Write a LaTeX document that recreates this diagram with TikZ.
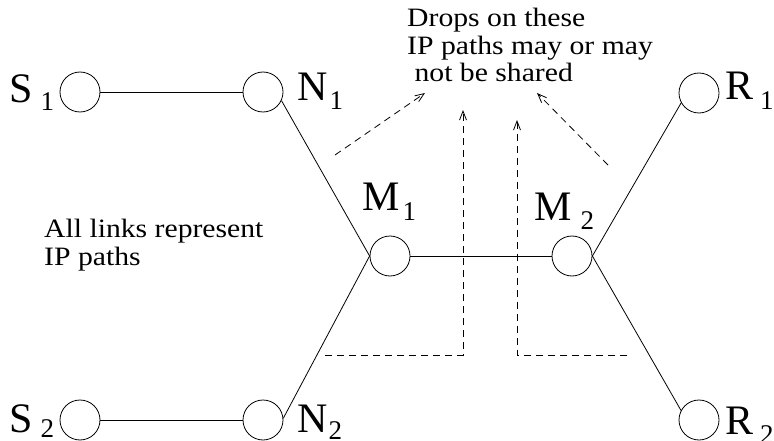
\documentclass[tikz,border=0pt]{standalone}
\usepackage{fontspec}
\setmainfont{Liberation Serif}
\newfontfamily\widefont[FakeStretch=1.12]{Liberation Serif}
\usetikzlibrary{arrows.meta}
\newcommand{\nlab}[4]{#1\hspace{#2}\raisebox{-#4}{\fontsize{27}{27}\selectfont #3}}
\tikzset{
  hostnode/.style={circle, draw, minimum size=40pt, inner sep=0pt, line width=0.8pt},
  link/.style={line width=0.8pt},
  dlink/.style={line width=0.8pt, dash pattern=on 7pt off 5pt},
  darrow/.style={dlink, -{Straight Barb[length=9pt,width=7pt,line width=0.8pt]}},
  lab/.style={anchor=base west, inner sep=0pt, font=\fontsize{42}{42}\selectfont},
  txt/.style={anchor=base west, inner sep=0pt, align=left, font=\widefont\fontsize{26.5}{27.5}\selectfont}
}
\begin{document}
\begin{tikzpicture}[x=1pt,y=-1pt]
\useasboundingbox (0,0) rectangle (774,441);
% hosts
\node[hostnode] (S1) at (80,92) {};
\node[hostnode] (N1) at (263,92) {};
\node[hostnode] (R1) at (699,93) {};
\node[hostnode] (M1) at (390,256) {};
\node[hostnode] (M2) at (572,256) {};
\node[hostnode] (S2) at (80,420) {};
\node[hostnode] (N2) at (263,420) {};
\node[hostnode] (R2) at (699,420) {};
% labels
\node[lab] (lS1) at (9,103) {\nlab{S}{8pt}{1}{8pt}};
\node[lab] (lS2) at (9,432) {\nlab{S}{8pt}{2}{5pt}};
\node[lab] (lN1) at (297,101) {\nlab{N}{2pt}{1}{9pt}};
\node[lab] (lN2) at (297,432) {\nlab{N}{1pt}{2}{7pt}};
\node[lab] (lM1) at (362,210) {\nlab{M}{3pt}{1}{10pt}};
\node[lab] (lM2) at (534,220) {\nlab{M}{9pt}{2}{9pt}};
\node[lab] (lR1) at (725,100) {\nlab{R}{7pt}{1}{10pt}};
\node[lab] (lR2) at (725,434) {\nlab{R}{7pt}{2}{9pt}};
% links
\draw[link] (S1.east) -- (N1.west);
\draw[link] (S2.east) -- (N2.west);
\draw[link] (N1.-25) -- (M1.west);
\draw[link] (N2.5) -- (M1.west);
\draw[link] (M1.east) -- (M2.west);
\draw[link] (R1.-151) -- (M2.east);
\draw[link] (R2.152) -- (M2.east);
% texts (base = baseline of last line)
\node[txt] (drops) at (407,82) {Drops on these\\IP paths may or may\\\ not be shared};
\node[txt] (all) at (44,265) {All links represent\\IP paths};
% dashed arrows
\coordinate (a1s) at (335,155);
\coordinate (a1e) at (425,93);
\coordinate (a2s) at (608,165);
\coordinate (a2e) at (537,93);
\coordinate (l1) at (325,355);
\coordinate (l2) at (463,355);
\coordinate (l3) at (463,110);
\coordinate (r1) at (627,355);
\coordinate (r2) at (517,355);
\coordinate (r3) at (517,120);
\draw[darrow] (a1s) -- (a1e);
\draw[darrow] (a2s) -- (a2e);
\draw[darrow] (l1) -- (l2) -- (l3);
\draw[darrow] (r1) -- (r2) -- (r3);
\end{tikzpicture}
\end{document}
